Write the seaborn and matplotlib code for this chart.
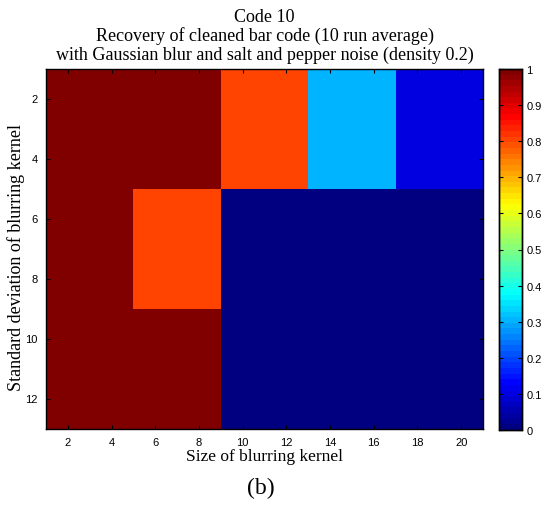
import numpy as np
import pandas as pd
import matplotlib
matplotlib.use("Agg")
import matplotlib.pyplot as plt
from matplotlib.colors import LinearSegmentedColormap
import seaborn as sns

# Data: recovery rate (10 run average), rows = sigma bins, cols = kernel size bins
kernel_size = [3, 7, 11, 15, 19]      # bin centres, width 4 (1..21)
blur_sigma = [3, 7, 11]               # bin centres, width 4 (1..13)
recovery = [
    [1.0, 1.0, 0.8, 0.3, 0.1],
    [1.0, 0.8, 0.0, 0.0, 0.0],
    [1.0, 1.0, 0.0, 0.0, 0.0],
]
x_ticks = [2, 4, 6, 8, 10, 12, 14, 16, 18, 20]
y_ticks = [2, 4, 6, 8, 10, 12]
cbar_ticks = [0, 0.1, 0.2, 0.3, 0.4, 0.5, 0.6, 0.7, 0.8, 0.9, 1]
cbar_labels = ["0", "0.1", "0.2", "0.3", "0.4", "0.5", "0.6", "0.7", "0.8", "0.9", "1"]

df = pd.DataFrame(recovery, index=blur_sigma, columns=kernel_size)

# MATLAB style jet(64)
jet64 = LinearSegmentedColormap.from_list(
    "mjet",
    [(0, (0, 0, 0.5)), (1 / 8, (0, 0, 1)), (3 / 8, (0, 1, 1)),
     (5 / 8, (1, 1, 0)), (7 / 8, (1, 0, 0)), (1, (0.5, 0, 0))],
    N=64)

serif = "Liberation Serif"
sans = "Liberation Sans"

W, H = 542, 506
fig = plt.figure(figsize=(W / 100, H / 100), dpi=100)
ax = fig.add_axes([46 / W, 1 - 430 / H, (483 - 46) / W, (430 - 70) / H])
cax = fig.add_axes([499 / W, 1 - 431 / H, 23 / W, (431 - 70) / H])

sns.heatmap(df, ax=ax, cbar_ax=cax, cmap=jet64, vmin=0, vmax=1,
            cbar_kws={"ticks": cbar_ticks})

# map data coordinates (1..21, 1..13) onto heatmap cell positions
x0, dx = 1, 4
y0, dy = 1, 4
ax.set_xticks([(v - x0) / dx for v in x_ticks])
ax.set_xticklabels([str(v) for v in x_ticks], rotation=0, family=sans, fontsize=8)
ax.set_yticks([(v - y0) / dy for v in y_ticks])
ax.set_yticklabels([str(v) for v in y_ticks], rotation=0, family=sans, fontsize=8)
ax.tick_params(direction="in", length=3, width=0.8, top=True, right=True, pad=6)
for s in ax.spines.values():
    s.set_visible(True)
    s.set_linewidth(1.0)

ax.set_xlabel("Size of blurring kernel", family=serif, fontsize=12.5)
ax.xaxis.set_label_coords(0.5, -0.053)
ax.set_ylabel("Standard deviation of blurring kernel", family=serif, fontsize=13)
ax.yaxis.set_label_coords(-0.048, 0.48)
ax.set_title("Code 10\nRecovery of cleaned bar code (10 run average)\n"
             "with Gaussian blur and salt and pepper noise (density 0.2)",
             family=serif, fontsize=13, pad=7, linespacing=1.12)

cax.tick_params(direction="in", length=3, width=0.8, left=True, right=True,
                labelsize=8, pad=3)
cax.set_yticklabels(cbar_labels, family=sans)
for s in cax.spines.values():
    s.set_visible(True)
    s.set_linewidth(1.0)

fig.text(261 / W, 1 - 488 / H, "(b)", family=serif, fontsize=17, ha="center", va="center")

fig.savefig("out.png", dpi=100)
